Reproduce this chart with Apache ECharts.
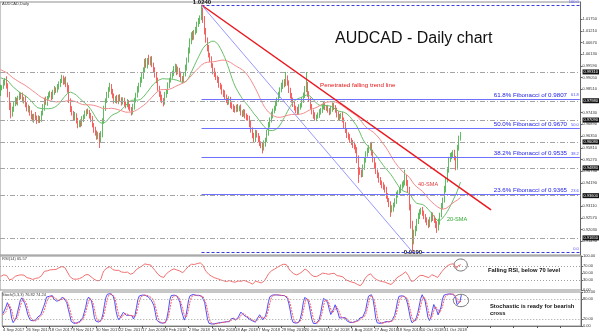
<!DOCTYPE html>
<html><head><meta charset="utf-8">
<script src="https://cdn.jsdelivr.net/npm/echarts@6/dist/echarts.min.js"></script>
<style>html,body{margin:0;padding:0;background:#fff}#c{width:600px;height:335px}</style>
</head><body><div id="c"></div>
<script>
// ---------------- data (prices in pips: value / 10000) ----------------
const tickLabels = ['4 Sep 2017','26 Sep 2017','18 Oct 2017','9 Nov 2017','30 Nov 2017','22 Dec 2017','17 Jan 2018','8 Feb 2018','2 Mar 2018','26 Mar 2018','18 Apr 2018','7 May 2018','29 May 2018','20 Jun 2018','12 Jul 2018','3 Aug 2018','27 Aug 2018','18 Sep 2018','10 Oct 2018','31 Oct 2018'];
// closes before the first visible bar (needed for the moving averages / oscillators)
const preClose = [9990,10010,10030,10020,10005,9990,9985,10000,9975,9960,9970,9985,9990,9975,9950,9940,9955,9965,9945,9930,9935,9920,9905,9915,9930,9945,9925,9910,9895,9900,9920,9935,9915,9900,9880,9870,9890,9905,9830];
const closes = [
9860,9862,9880,9893,9870,9825,9770,9735,9760,9785,
9800,9790,9812,9825,9818,9800,9808,9780,9758,9765,
9740,9725,9712,9730,9720,9705,9718,9712,9740,9765,
9802,9790,9812,9825,9830,9815,9838,9850,9845,9862,
9875,9890,9900,9885,9895,9870,9850,9800,9760,9740,
9718,9730,9705,9686,9700,9690,9712,9725,9740,9748,
9746,9730,9712,9686,9665,9650,9630,9640,9617,9640,
9705,9760,9800,9825,9850,9865,9840,9820,9800,9810,
9795,9815,9805,9790,9800,9785,9778,9790,9770,9760,
9746,9770,9800,9825,9850,9870,9894,9910,9940,9977,
9960,9985,9975,9990,9965,9940,9920,9890,9857,9830,
9810,9802,9790,9825,9840,9870,9894,9910,9925,9940,
9955,9930,9940,9920,9900,9894,9920,9950,9986,10030,
10070,10102,10090,10115,10125,10150,10165,10180,10208,10171,
10120,10078,10040,10009,9990,9960,9935,9920,9905,9894,
9870,9860,9840,9830,9815,9802,9790,9805,9778,9770,
9760,9755,9770,9760,9765,9745,9735,9746,9730,9720,
9718,9690,9663,9640,9617,9650,9640,9620,9600,9594,
9580,9600,9617,9650,9686,9710,9732,9750,9765,9785,
9802,9825,9848,9865,9885,9875,9900,9880,9848,9820,
9802,9780,9765,9755,9746,9770,9778,9800,9825,9850,
9871,9830,9802,9770,9746,9730,9718,9725,9732,9745,
9755,9770,9778,9765,9765,9755,9746,9760,9778,9765,
9755,9735,9718,9725,9732,9710,9686,9660,9640,9630,
9617,9605,9594,9585,9571,9530,9479,9470,9456,9490,
9525,9550,9571,9580,9594,9560,9525,9500,9470,9455,
9432,9420,9409,9400,9386,9360,9340,9320,9294,9300,
9317,9335,9363,9375,9386,9400,9409,9420,9442,9420,
9386,9310,9230,9150,9185,9210,9240,9265,9285,9294,
9280,9262,9250,9235,9225,9250,9271,9255,9248,9230,
9211,9240,9271,9310,9340,9390,9432,9480,9525,9540,
9548,9560,9534,9490,9580,9625,9640];
const wickUp = [
12,8,15,10,18,9,14,20,11,7, 16,12,9,14,10,18,8,13,11,15, 9,14,12,8,16,10,13,9,12,18,
10,15,8,12,14,9,11,16,10,13, 12,9,18,14,10,15,12,20,9,13, 11,16,10,14,8,12,15,9,13,11,
14,10,12,16,9,13,11,15,10,18, 12,15,9,14,11,16,10,13,12,9, 15,11,13,9,14,12,10,16,11,13,
9,14,12,10,15,11,13,16,12,14, 18,10,25,12,14,9,13,11,15,10, 12,16,9,14,11,13,10,15,12,18,
14,11,16,10,13,12,9,15,11,14, 16,12,18,10,14,13,15,12,32,20, 18,14,12,16,10,13,11,15,12,9,
14,11,13,10,16,12,9,14,11,13, 12,15,10,13,11,16,9,14,12,10, 13,11,15,12,10,14,12,9,16,11,
12,15,10,13,14,11,16,12,10,13, 11,14,12,16,10,13,31,15,12,10, 14,11,13,10,15,12,9,14,11,16,
60,14,12,10,13,11,15,9,12,14, 10,13,16,11,12,14,9,15,12,10, 13,11,14,12,10,15,11,13,9,12,
14,10,12,15,11,13,16,12,10,14, 12,15,11,13,9,14,12,10,13,11, 12,14,10,13,11,15,12,9,14,16,
11,13,15,10,14,12,16,11,37,13, 12,15,10,14,18,11,13,16,12,10, 14,11,13,10,15,12,14,11,13,9,
12,14,10,16,11,15,13,12,14,17, 13,10,12,9,15,12,14];
const wickDn = [
10,14,9,12,16,11,15,18,10,13, 12,9,14,11,13,10,15,12,9,14, 11,13,10,15,12,14,9,17,11,10,
13,11,15,9,12,14,10,13,11,9, 12,14,10,13,11,9,15,12,14,10, 13,11,12,15,10,14,9,12,11,13,
10,14,12,11,15,13,12,10,37,14, 11,13,9,12,14,10,13,11,15,12, 10,13,11,14,9,12,15,10,13,11,
16,11,13,10,12,14,9,13,11,12, 10,13,11,14,12,10,15,11,13,14, 12,15,18,10,13,11,14,12,10,13,
11,14,10,13,12,15,11,10,13,12, 14,11,13,10,12,15,11,13,10,14, 16,12,14,11,13,10,15,12,11,14,
12,10,13,15,11,14,12,10,13,11, 14,12,10,13,11,15,12,10,14,13, 11,14,12,15,13,10,12,14,11,15,
25,12,14,10,13,11,12,15,10,13, 12,10,14,11,13,15,10,12,14,11, 13,11,12,15,14,10,13,11,12,14,
12,14,10,13,11,15,12,14,10,13, 11,13,12,10,14,12,15,11,13,10, 12,14,11,13,10,12,15,11,14,12,
13,11,14,12,15,20,60,14,12,10, 11,13,10,14,12,15,11,13,10,14, 12,11,15,13,12,14,10,13,32,12,
14,11,13,12,10,14,12,11,13,15, 14,18,22,50,15,12,14,11,13,12, 13,11,14,12,15,10,13,12,14,20,
23,12,14,11,13,12,15,11,14,10, 12,14,11,13,10,12,11];
const priceTicks = [1.0175,1.0121,1.0067,1.0013,0.9959,0.9905,0.9851,0.9743,0.9689,0.9635,0.9581,0.9527,0.9473,0.9419,0.9311,0.9257,0.9203,0.9149];
const levelLines = [0.9931,0.9798,0.9709,0.9608,0.9488,0.9360,0.9165];
const fibLevels = [1.0240,0.9807,0.9670,0.9535,0.9365,0.9100];
const fibPct = ['100.0','61.8','50.0','38.2','23.6','0.0'];
const highBar = 138, lowBar = 283;
const trendEndBar = 337, trendEndPrice = 0.9294;
const rsiTicks = [0,30,50,70,100];
const stochTicks = [0,20,80,100];
const totalSlots = 399;

// ---------------- build ----------------
const P = v => v / 10000;
const nPre = preClose.length;
const allC = preClose.concat(closes);
const allO = [], allH = [], allL = [];
for (let k = 0; k < allC.length; k++) {
  const o = k === 0 ? allC[0] : allC[k - 1];
  const i = k - nPre;
  const up = i >= 0 ? wickUp[i] : 0, dn = i >= 0 ? wickDn[i] : 0;
  allO.push(o);
  allH.push(Math.max(o, allC[k]) + up);
  allL.push(Math.min(o, allC[k]) - dn);
}
const cats = [];
for (let i = 0; i < totalSlots; i++) cats.push(i % 16 === 0 && tickLabels[i / 16] ? tickLabels[i / 16] : 'b' + i);
const candles = closes.map((c, i) => { const k = i + nPre; return [P(allO[k]), P(c), P(allL[k]), P(allH[k])]; });
function sma(n) {
  return closes.map((_, i) => { const k = i + nPre; let s = 0; for (let j = k - n + 1; j <= k; j++) s += allC[j]; return +P(s / n).toFixed(5); });
}
const sma20 = sma(20), sma40 = sma(40);
// RSI(14), Wilder
const rsiAll = new Array(allC.length).fill(null);
let ag = 0, al = 0;
for (let k = 1; k < allC.length; k++) {
  const d = allC[k] - allC[k - 1], g = Math.max(d, 0), l = Math.max(-d, 0);
  if (k <= 14) { ag += g / 14; al += l / 14; if (k < 14) continue; }
  else { ag = (ag * 13 + g) / 14; al = (al * 13 + l) / 14; }
  rsiAll[k] = al === 0 ? 100 : 100 - 100 / (1 + ag / al);
}
const rsi = closes.map((_, i) => +rsiAll[i + nPre].toFixed(2));
// Stochastic(5,3,3)
const num = [], den = [], mainAll = [], sigAll = [];
for (let k = 0; k < allC.length; k++) {
  if (k < 4) { num.push(null); den.push(null); continue; }
  let hh = -Infinity, ll = Infinity;
  for (let j = k - 4; j <= k; j++) { hh = Math.max(hh, allH[j]); ll = Math.min(ll, allL[j]); }
  num.push(allC[k] - ll); den.push(hh - ll);
}
for (let k = 0; k < allC.length; k++) {
  if (k < 6) { mainAll.push(null); continue; }
  let sn = 0, sd = 0; for (let j = k - 2; j <= k; j++) { sn += num[j]; sd += den[j]; }
  mainAll.push(sd === 0 ? 100 : 100 * sn / sd);
}
for (let k = 0; k < allC.length; k++) {
  if (k < 8) { sigAll.push(null); continue; }
  sigAll.push((mainAll[k] + mainAll[k - 1] + mainAll[k - 2]) / 3);
}
const stMain = closes.map((_, i) => +mainAll[i + nPre].toFixed(2));
const stSig = closes.map((_, i) => +sigAll[i + nPre].toFixed(2));

// ---------------- option ----------------
const FF = 'Liberation Sans';
const hlLabel = { show: true, position: 'end', distance: 2, formatter: p => (+p.value).toFixed(5), backgroundColor: '#111', color: '#fff', fontSize: 4, padding: [1, 1, 0, 1], fontFamily: FF };
const ml = [];
levelLines.forEach(v => ml.push({ yAxis: v, lineStyle: { color: '#a4a4a4', type: [5, 2, 1, 2], width: 1 }, label: hlLabel }));
[fibLevels[0], fibLevels[fibLevels.length - 1]].forEach(v => ml.push({ yAxis: v, lineStyle: { opacity: 0 }, label: hlLabel }));
fibLevels.forEach((v, j) => {
  const edge = j === 0 || j === fibLevels.length - 1;
  const ls = edge ? { color: '#3a3ad8', type: [3, 2], width: 1 } : { color: '#7070ff', type: 'solid', width: 1 };
  const txt = edge ? '{n|' + fibPct[j] + '}' : '{d|' + fibPct[j] + '% Fibonacci of ' + v.toFixed(4) + '}{n|' + fibPct[j] + '}';
  const lab = { show: true, position: 'insideEndTop', distance: 1, formatter: txt, rich: {
    d: { fontSize: 6.2, color: '#2222e6', fontFamily: FF },
    n: { fontSize: 4, color: '#4a4aff', fontFamily: FF, padding: [0, 0, 0, 4] } } };
  ml.push([{ coord: [cats[highBar], v], lineStyle: ls, label: lab }, { coord: [cats[totalSlots - 1], v], lineStyle: ls, label: lab }]);
});
const redTL = { color: '#ea1820', width: 1.5, type: 'solid' };
ml.push([{ coord: [cats[highBar], fibLevels[0]], lineStyle: redTL, label: { show: false } }, { coord: [cats[trendEndBar], trendEndPrice], lineStyle: redTL, label: { show: false } }]);
const blueTL = { color: '#8c8cff', width: 0.9, type: 'solid' };
ml.push([{ coord: [cats[highBar], fibLevels[0]], lineStyle: blueTL, label: { show: false } }, { coord: [cats[lowBar], fibLevels[fibLevels.length - 1]], lineStyle: blueTL, label: { show: false } }]);

const gridBase = { left: 0, right: 19, show: true, borderColor: '#8e8e8e', borderWidth: 1 };
const xAx = k => ({
  type: 'category', gridIndex: k, data: cats, boundaryGap: true, show: k === 2,
  axisLine: { show: true, lineStyle: { color: '#777' } },
  axisTick: { show: true, interval: 15, alignWithLabel: true, length: 2, lineStyle: { color: '#555' } },
  axisLabel: { interval: 15, fontSize: 4.2, color: '#333', align: 'left', margin: 2, fontFamily: FF, formatter: v => v.charAt(0) === 'b' ? '' : v },
  splitLine: { show: false }
});
const yAx = (k, min, max, ticks, dec) => ({
  type: 'value', gridIndex: k, position: 'right', min, max, scale: true,
  axisLine: { show: true, lineStyle: { color: '#666' } },
  axisTick: { show: true, length: 2, customValues: ticks, lineStyle: { color: '#666' } },
  axisLabel: { customValues: ticks, fontSize: 4, color: '#333', margin: 2, fontFamily: FF, formatter: v => (+v).toFixed(dec) },
  splitLine: { show: false }
});
const dotted = v => ({ yAxis: v, lineStyle: { color: '#a0a0a0', type: [1, 2], width: 1 }, label: { show: false } });

const option = {
  animation: false,
  backgroundColor: '#ffffff',
  textStyle: { fontFamily: FF },
  grid: [ { ...gridBase, top: 2, height: 253 }, { ...gridBase, top: 256, height: 34 }, { ...gridBase, top: 292, height: 34 } ],
  xAxis: [xAx(0), xAx(1), xAx(2)],
  yAxis: [yAx(0, 0.90861, 1.02538, priceTicks, 5), yAx(1, 0, 100, rsiTicks, 2), yAx(2, 0, 100, stochTicks, 2)],
  series: [
    { type: 'candlestick', xAxisIndex: 0, yAxisIndex: 0, data: candles, barWidth: 1,
      itemStyle: { color: '#1f991f', color0: '#f21c1c', borderColor: '#3aa83a', borderColor0: '#f23a3a', borderWidth: 0.8 },
      markLine: { symbol: ['none', 'none'], silent: true, animation: false, precision: 5, data: ml } },
    { type: 'line', name: '20-SMA', xAxisIndex: 0, yAxisIndex: 0, data: sma20, symbol: 'none', lineStyle: { color: '#68bf68', width: 1 }, z: 3 },
    { type: 'line', name: '40-SMA', xAxisIndex: 0, yAxisIndex: 0, data: sma40, symbol: 'none', lineStyle: { color: '#f28c8c', width: 1 }, z: 3 },
    { type: 'line', xAxisIndex: 1, yAxisIndex: 1, data: rsi, symbol: 'none', lineStyle: { color: '#f07070', width: 1 },
      markLine: { symbol: ['none', 'none'], silent: true, data: [dotted(70), dotted(30)] } },
    { type: 'line', xAxisIndex: 2, yAxisIndex: 2, data: stMain, symbol: 'none', lineStyle: { color: '#4d4dff', width: 1 },
      markLine: { symbol: ['none', 'none'], silent: true, data: [dotted(80), dotted(20)] } },
    { type: 'line', xAxisIndex: 2, yAxisIndex: 2, data: stSig, symbol: 'none', lineStyle: { color: '#ff5a5a', width: 1, type: [2, 1] } }
  ],
  graphic: [
    { type: 'text', x: 2, y: 4, style: { text: 'AUDCAD,Daily', fontSize: 4, fill: '#333', fontFamily: FF, verticalAlign: 'middle', textVerticalAlign: 'middle' } },
    { type: 'text', x: 335, y: 38.5, style: { text: 'AUDCAD - Daily chart', fontSize: 16, fill: '#111', fontFamily: FF, verticalAlign: 'middle', textVerticalAlign: 'middle' } },
    { type: 'text', x: 320, y: 85, style: { text: 'Penetrated falling trend line', fontSize: 6.2, fill: '#e21414', fontFamily: FF, verticalAlign: 'middle', textVerticalAlign: 'middle' } },
    { type: 'text', x: 202, y: 2.8, style: { text: '1.0240', fontSize: 6, fontWeight: 'bold', fill: '#111', fontFamily: FF, align: 'center', textAlign: 'center', verticalAlign: 'middle', textVerticalAlign: 'middle' } },
    { type: 'text', x: 413, y: 252.5, style: { text: '0.9100', fontSize: 6, fontWeight: 'bold', fill: '#111', fontFamily: FF, align: 'center', textAlign: 'center', verticalAlign: 'middle', textVerticalAlign: 'middle' } },
    { type: 'text', x: 418, y: 184, style: { text: '40-SMA', fontSize: 5.6, fill: '#e03a3a', fontFamily: FF, verticalAlign: 'middle', textVerticalAlign: 'middle' } },
    { type: 'text', x: 447, y: 219, style: { text: '20-SMA', fontSize: 5.6, fill: '#2ea82e', fontFamily: FF, verticalAlign: 'middle', textVerticalAlign: 'middle' } },
    { type: 'text', x: 2, y: 258.5, style: { text: 'RSI(14) 65.57', fontSize: 4, fill: '#333', fontFamily: FF, verticalAlign: 'middle', textVerticalAlign: 'middle' } },
    { type: 'text', x: 2, y: 294.5, style: { text: 'Stoch(5,3,3) 76.82 74.24', fontSize: 4, fill: '#333', fontFamily: FF, verticalAlign: 'middle', textVerticalAlign: 'middle' } },
    { type: 'text', x: 488, y: 270, style: { text: 'Falling RSI, below 70 level', fontSize: 5.8, fontWeight: 'bold', fill: '#111', fontFamily: FF, verticalAlign: 'middle', textVerticalAlign: 'middle' } },
    { type: 'text', x: 490, y: 306.8, style: { text: 'Stochastic is ready for bearish', fontSize: 5.8, fontWeight: 'bold', fill: '#111', fontFamily: FF, verticalAlign: 'middle', textVerticalAlign: 'middle' } },
    { type: 'text', x: 490, y: 313.8, style: { text: 'cross', fontSize: 5.8, fontWeight: 'bold', fill: '#111', fontFamily: FF, verticalAlign: 'middle', textVerticalAlign: 'middle' } },
    { type: 'ellipse', shape: { cx: 460.7, cy: 265, rx: 6.6, ry: 6 }, style: { fill: 'none', stroke: '#555', lineWidth: 0.8 } },
    { type: 'ellipse', shape: { cx: 461, cy: 300.5, rx: 7.6, ry: 6.2 }, style: { fill: 'none', stroke: '#555', lineWidth: 0.8 } }
  ]
};
const chart = echarts.init(document.getElementById('c'), null, { renderer: 'canvas', width: 600, height: 335 });
chart.setOption(option);
</script>
</body></html>
